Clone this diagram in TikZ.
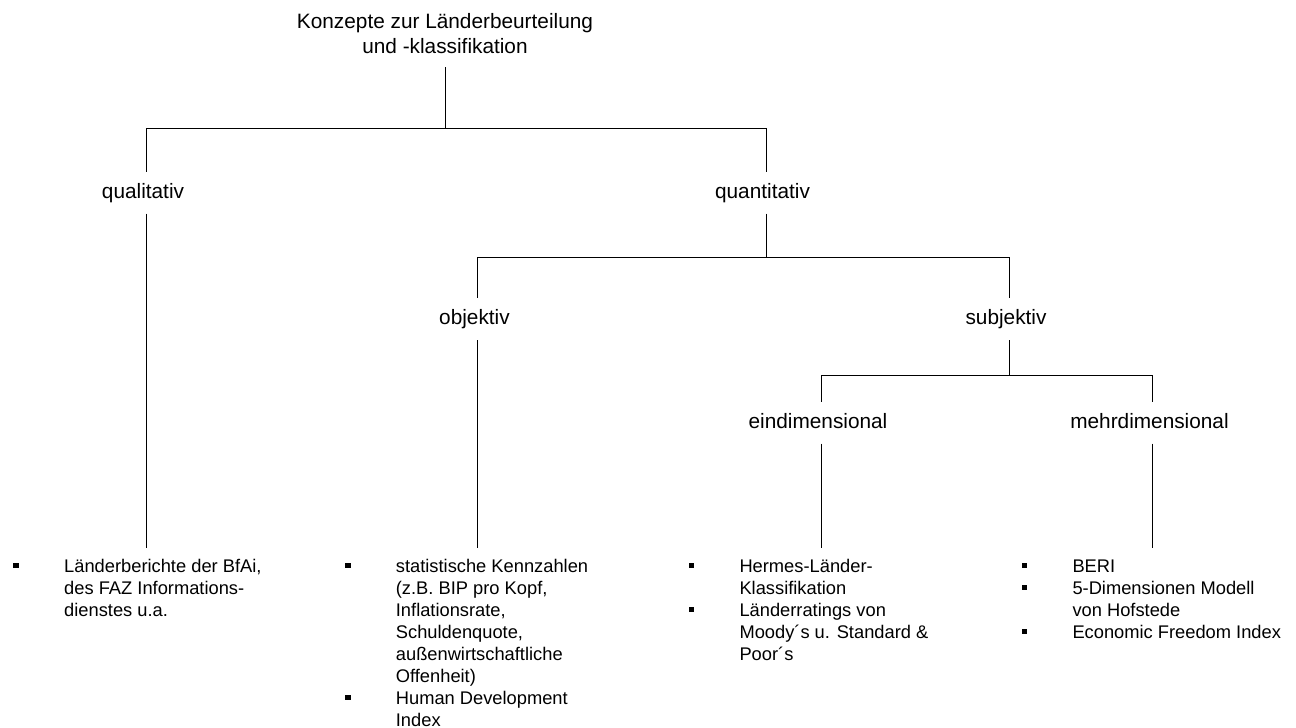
\documentclass[tikz,border=0pt]{standalone}
\usepackage{fontspec}
\setmainfont{Liberation Sans}
\newcommand\sqbullet{\leavevmode\llap{\rule[3.75pt]{5.5pt}{5.5pt}\hspace{45.25pt}}}
\tikzset{
  level/.style={font=\fontsize{20.8}{25}\selectfont, text height=15pt, text depth=4.5pt,
    inner xsep=0pt, inner ysep=11pt, anchor=base},
  title/.style={font=\fontsize{20.8}{25}\selectfont, align=center, inner xsep=0pt,
    inner ysep=12.7pt, anchor=south},
  itemlist/.style={font=\fontsize{18.3}{22}\selectfont, align=left, inner sep=0pt,
    anchor=base west},
  branch/.style={line width=1pt, black}
}
\begin{document}
\begin{tikzpicture}[x=1pt,y=-1pt]
\useasboundingbox (0,0) rectangle (1296,728);

% headings of the classification tree
\node[title] (root) at (445,67) {Konzepte zur Länderbeurteilung\\und -klassifikation};
\node[level] (qual)  at (143,198)    {qualitativ};
\node[level] (quant) at (762.5,198)  {quantitativ};
\node[level] (obj)   at (474.5,324.3) {objektiv};
\node[level] (subj)  at (1006,324.3) {subjektiv};
\node[level] (eind)  at (818,428)    {eindimensional};
\node[level] (mehr)  at (1149.5,428) {mehrdimensional};

% junctions of the tree
\coordinate (j0)  at (445,128);
\coordinate (j0l) at (146.5,128);
\coordinate (j0r) at (766,128);
\coordinate (j1)  at (766,257);
\coordinate (j1l) at (477.7,257);
\coordinate (j1r) at (1009,257);
\coordinate (j2)  at (1009,375);
\coordinate (j2l) at (821,375);
\coordinate (j2r) at (1152.7,375);
\coordinate (e1) at (146.5,548);
\coordinate (e2) at (477.7,548);
\coordinate (e3) at (821,548);
\coordinate (e4) at (1152.7,548);

% lists of examples (placed by the baseline of their last line)
\node[itemlist] (l1) at (64,616) {\sqbullet Länderberichte der BfAi,\\des FAZ Informations-\\dienstes u.a.};
\node[itemlist] (l2) at (395.7,726) {\sqbullet statistische Kennzahlen\\(z.B. BIP pro Kopf,\\Inflationsrate,\\Schuldenquote,\\außenwirtschaftliche\\Offenheit)\\\sqbullet Human Development\\Index};
\node[itemlist] (l3) at (739.3,660) {\sqbullet Hermes-Länder-\\Klassifikation\\\sqbullet Länderratings von\\Moody´s u. Standard \&\\Poor´s};
\node[itemlist] (l4) at (1072.3,638) {\sqbullet BERI\\\sqbullet 5-Dimensionen Modell\\von Hofstede\\\sqbullet Economic Freedom Index};

% connectors
\draw[branch] (root.south -| j0) -- (j0);
\draw[branch] (j0l) -- (j0r);
\draw[branch] (j0l) -- (j0l |- qual.north);
\draw[branch] (j0r) -- (j0r |- quant.north);
\draw[branch] (quant.south -| j1) -- (j1);
\draw[branch] (j1l) -- (j1r);
\draw[branch] (j1l) -- (j1l |- obj.north);
\draw[branch] (j1r) -- (j1r |- subj.north);
\draw[branch] (subj.south -| j2) -- (j2);
\draw[branch] (j2l) -- (j2r);
\draw[branch] (j2l) -- (j2l |- eind.north);
\draw[branch] (j2r) -- (j2r |- mehr.north);
\draw[branch] (qual.south -| e1) -- (e1);
\draw[branch] (obj.south -| e2) -- (e2);
\draw[branch] (eind.south -| e3) -- (e3);
\draw[branch] (mehr.south -| e4) -- (e4);
\end{tikzpicture}
\end{document}
